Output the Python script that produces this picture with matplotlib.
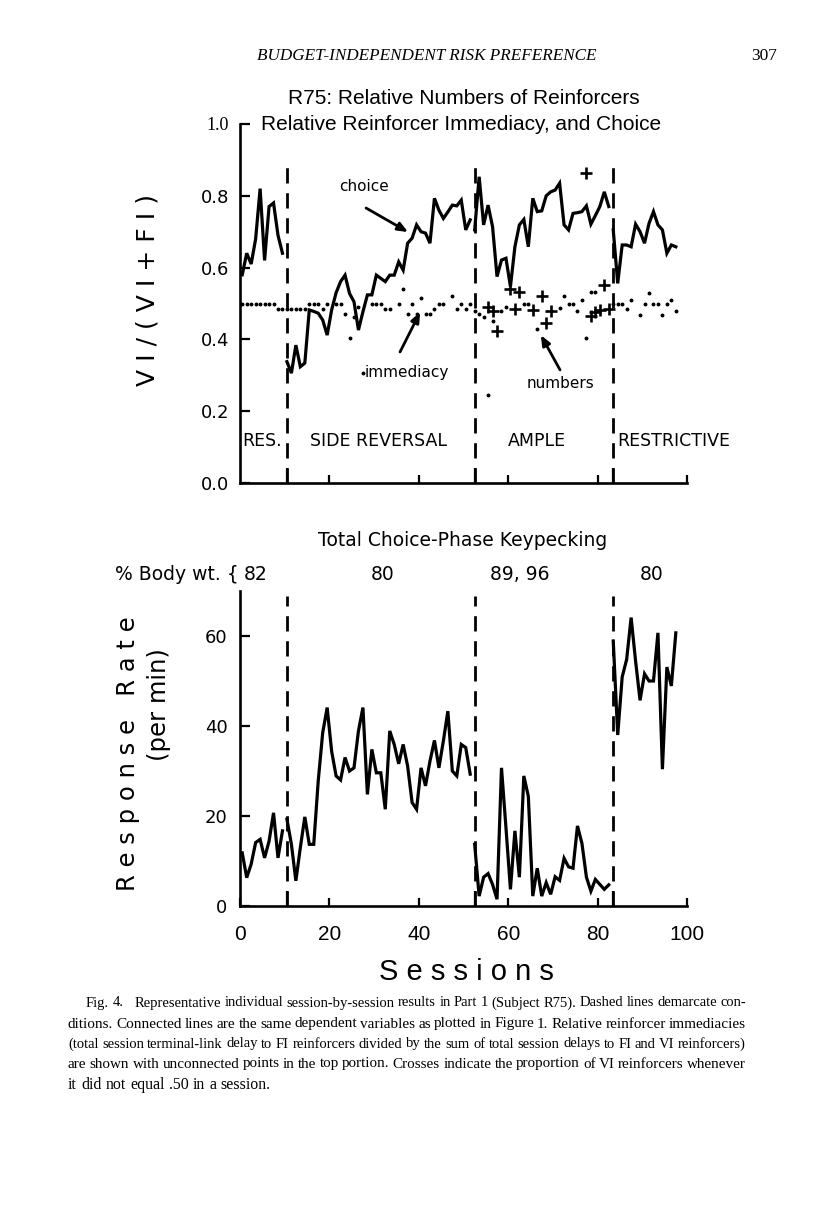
import numpy as np
import matplotlib
matplotlib.use("Agg")
import matplotlib.pyplot as plt

# ---------------- data ----------------
conditions = ["RES.", "SIDE REVERSAL", "AMPLE", "RESTRICTIVE"]
cond_first_session = [1, 11, 53, 84]
cond_last_session = [10, 52, 83, 98]
boundaries = [10.5, 52.5, 83.5]

res_choice = [0.58, 0.64, 0.61, 0.68, 0.82, 0.62, 0.77, 0.78, 0.69, 0.64]
sr_choice = [0.338, 0.306, 0.384, 0.324, 0.334, 0.482, 0.478, 0.473, 0.454, 0.412,
             0.482, 0.53, 0.561, 0.579, 0.528, 0.505, 0.426, 0.477, 0.524, 0.524,
             0.579, 0.57, 0.561, 0.579, 0.579, 0.616, 0.593, 0.668, 0.682, 0.719,
             0.70, 0.696, 0.668, 0.793, 0.760, 0.737, 0.755, 0.774, 0.772, 0.788,
             0.705, 0.733]
ample_choice = [0.705, 0.853, 0.719, 0.774, 0.714, 0.575, 0.621, 0.626, 0.547, 0.658,
                0.719, 0.734, 0.658, 0.793, 0.756, 0.758, 0.80, 0.811, 0.816, 0.835,
                0.719, 0.705, 0.751, 0.753, 0.756, 0.772, 0.721, 0.745, 0.770, 0.811,
                0.77]
restr_choice = [0.705, 0.556, 0.663, 0.663, 0.658, 0.721, 0.70, 0.668, 0.723, 0.756,
                0.719, 0.705, 0.64, 0.663, 0.658]

N = None
res_imm = [0.50, 0.50, 0.50, 0.50, 0.50, 0.50, 0.50, 0.50, 0.485, 0.485]
sr_imm = [0.485, 0.485, 0.485, 0.485, 0.485, 0.50, 0.50, 0.50, 0.485, 0.50,
          N, 0.50, 0.50, 0.47, 0.405, 0.463, 0.49, 0.306, N, 0.50,
          0.50, 0.50, 0.485, 0.485, N, 0.50, 0.54, 0.47, 0.50, 0.47,
          0.515, 0.47, 0.47, 0.485, 0.50, 0.50, N, 0.52, 0.485, 0.50,
          0.485, 0.50]
ample_imm = [0.48, 0.47, 0.463, 0.245, 0.45, N, 0.48, 0.49, N, N,
             N, 0.50, 0.50, N, 0.428, N, N, N, N, 0.487,
             0.52, 0.50, 0.50, 0.48, 0.51, 0.403, 0.533, 0.533, N, N,
             N]
restr_imm = [0.50, 0.50, 0.50, 0.485, 0.51, N, 0.468, 0.50, 0.53, 0.50,
             0.50, 0.468, 0.50, 0.51, 0.48]

numbers_sessions = [56, 57, 58, 61, 62, 63, 66, 68, 69, 70, 78, 79, 80, 81, 82, 83]
numbers_values = [0.49, 0.48, 0.424, 0.54, 0.485, 0.531, 0.482, 0.52, 0.447, 0.48,
                  0.864, 0.466, 0.477, 0.482, 0.552, 0.485]

res_rate = [11.8, 6.3, 9.3, 14.1, 14.8, 10.7, 14.4, 20.7, 10.7, 16.7]
sr_rate = [19.3, 13.7, 5.6, 13.0, 19.8, 13.7, 13.7, 27.8, 38.5, 44.1,
           34.4, 28.9, 28.0, 33.0, 30.0, 30.7, 38.9, 44.1, 24.8, 34.8,
           29.6, 29.6, 21.5, 38.9, 35.9, 31.6, 35.9, 31.1, 23.0, 21.5,
           30.7, 26.7, 32.2, 36.8, 30.7, 36.7, 43.3, 30.0, 28.9, 35.9,
           35.2, 29.3]
ample_rate = [13.7, 2.2, 6.4, 7.2, 4.8, 1.5, 30.7, 17.4, 3.7, 16.7,
              6.4, 28.9, 24.4, 2.2, 8.4, 2.2, 5.2, 2.6, 6.5, 5.7,
              10.6, 8.7, 8.4, 17.8, 13.9, 6.4, 3.3, 5.9, 4.8, 3.7,
              4.7]
restr_rate = [58.9, 38.0, 50.9, 54.8, 64.1, 54.4, 45.7, 51.6, 50.0, 50.0,
              60.7, 30.4, 53.1, 48.9, 60.7]

body_wt = ["82", "80", "89, 96", "80"]
top_yticks = [0.0, 0.2, 0.4, 0.6, 0.8, 1.0]
bot_yticks = [0, 20, 40, 60]
xticks = [0, 20, 40, 60, 80, 100]

choice_by_cond = [res_choice, sr_choice, ample_choice, restr_choice]
imm_by_cond = [res_imm, sr_imm, ample_imm, restr_imm]
rate_by_cond = [res_rate, sr_rate, ample_rate, restr_rate]

caption = [
    "Fig. 4.  Representative individual session-by-session results in Part 1 (Subject R75). Dashed lines demarcate con-",
    "ditions. Connected lines are the same dependent variables as plotted in Figure 1. Relative reinforcer immediacies",
    "(total session terminal-link delay to FI reinforcers divided by the sum of total session delays to FI and VI reinforcers)",
    "are shown with unconnected points in the top portion. Crosses indicate the proportion of VI reinforcers whenever",
    "it did not equal .50 in a session.",
]

# ---------------- figure ----------------
W, H = 816, 1207
plt.rcParams["lines.scale_dashes"] = False
fig = plt.figure(figsize=(W / 100, H / 100), dpi=100)


def fx(px):
    return px / W


def fy(py):
    return 1 - py / H


def axes_px(left, top, right, bottom):
    return fig.add_axes([fx(left), fy(bottom), (right - left) / W, (bottom - top) / H])


SANS = "DejaVu Sans"
HELV = "Liberation Sans"
SERIF = "Liberation Serif"
LW = 2.3
SPW = 1.9
shift = 0.5  # sessions plotted at session - 0.5

ax1 = axes_px(240, 124, 687, 483)
ax2 = axes_px(240, 591, 687, 906)

for ax in (ax1, ax2):
    for s in ("top", "right"):
        ax.spines[s].set_visible(False)
    for s in ("left", "bottom"):
        ax.spines[s].set_linewidth(SPW)
    ax.set_xlim(0, 100)

ax1.set_ylim(0, 1.0)
ax2.set_ylim(0, 70)

# ---- top panel ----
for first, vals, imms in zip(cond_first_session, choice_by_cond, imm_by_cond):
    xs = np.arange(first, first + len(vals)) - shift
    ax1.plot(xs, vals, color="black", lw=LW, solid_joinstyle="miter", zorder=3)
    imv = np.array([np.nan if v is None else v for v in imms], dtype=float)
    ax1.plot(xs, imv, ls="none", marker="o", ms=1.8, color="black", zorder=3)

ax1.plot(np.array(numbers_sessions) - shift, numbers_values, ls="none", marker="+",
         ms=9, mew=1.9, color="black", zorder=4)

for b in boundaries:
    ax1.plot([b, b], [0, 0.89], color="black", lw=2.0, dashes=(11, 7), zorder=2)

ax1.set_yticks(top_yticks)
ax1.set_yticklabels(["0.0", "0.2", "0.4", "0.6", "0.8", "1.0"], fontsize=13, family=SANS)
ax1.get_yticklabels()[-1].set_family(SERIF)
ax1.get_yticklabels()[-1].set_fontsize(13)
ax1.tick_params(axis="y", direction="in", length=7, width=1.6, pad=8)
ax1.set_xticks([20, 40, 60, 80, 100])
ax1.set_xticks(boundaries, minor=True)
ax1.set_xticklabels([])
ax1.tick_params(axis="x", which="major", direction="in", length=6, width=1.6)
ax1.tick_params(axis="x", which="minor", direction="in", length=11, width=1.6)

cond_label_x = [0.6, 30.9, 66.4, 84.3]
cond_ha = ["left", "center", "center", "left"]
for lab, xv, ha in zip(conditions, cond_label_x, cond_ha):
    ax1.text(xv, 0.117, lab, fontsize=12.5, family=SANS, ha=ha, va="center", clip_on=False)

ax1.text(27.7, 0.827, "choice", fontsize=11, family=SANS, ha="center", va="center")
ax1.text(37.4, 0.309, "immediacy", fontsize=11, family=SANS, ha="center", va="center")
ax1.text(71.6, 0.276, "numbers", fontsize=11, family=SANS, ha="center", va="center")
arrow = dict(arrowstyle="-|>,head_length=0.6,head_width=0.25", color="black", lw=2.0,
             shrinkA=0, shrinkB=0)
ax1.annotate("", xy=(37.6, 0.699), xytext=(28.2, 0.766), arrowprops=arrow)
ax1.annotate("", xy=(40.3, 0.476), xytext=(35.8, 0.365), arrowprops=arrow)
ax1.annotate("", xy=(67.3, 0.412), xytext=(71.6, 0.315), arrowprops=arrow)

# ---- bottom panel ----
for first, vals in zip(cond_first_session, rate_by_cond):
    xs = np.arange(first, first + len(vals)) - shift
    ax2.plot(xs, vals, color="black", lw=LW, solid_joinstyle="miter", zorder=3)

for b in boundaries:
    ax2.plot([b, b], [0, 69], color="black", lw=2.0, dashes=(11, 7), zorder=2)

ax2.set_yticks(bot_yticks)
ax2.set_yticklabels([str(v) for v in bot_yticks], fontsize=13, family=SANS)
ax2.tick_params(axis="y", direction="in", length=7, width=1.6, pad=9)
ax2.set_xticks(xticks)
ax2.set_xticklabels([str(v) for v in xticks], fontsize=15, family=HELV)
ax2.set_xticks(boundaries, minor=True)
ax2.tick_params(axis="x", which="major", direction="in", length=6, width=1.6, pad=14)
ax2.tick_params(axis="x", which="minor", direction="in", length=11, width=1.6)

# ---- figure texts ----
fig.text(fx(427), fy(56), "BUDGET-INDEPENDENT RISK PREFERENCE", fontsize=12.3,
         family=SERIF, style="italic", ha="center", va="center")
fig.text(fx(764), fy(56), "307", fontsize=12.5, family=SERIF, ha="center", va="center")
fig.text(fx(464), fy(98), "R75: Relative Numbers of Reinforcers", fontsize=15,
         family=HELV, ha="center", va="center")
fig.text(fx(461), fy(125), "Relative Reinforcer Immediacy, and Choice", fontsize=15,
         family=HELV, ha="center", va="center")
fig.text(fx(148), fy(290), "V I / ( V I + F I )", fontsize=18, family=SANS,
         rotation=90, ha="center", va="center")

fig.text(fx(463), fy(541), "Total Choice-Phase Keypecking", fontsize=13.5, family=SANS,
         ha="center", va="center")
fig.text(fx(115), fy(575), "% Body wt. {", fontsize=13.5, family=SANS, ha="left", va="center")
bw_x = [256, 383, 520, 652]
for t, xp in zip(body_wt, bw_x):
    fig.text(fx(xp), fy(575), t, fontsize=13.5, family=SANS, ha="center", va="center")

fig.text(fx(128), fy(754), "R e s p o n s e   R a t e", fontsize=17.5, family=SANS,
         rotation=90, ha="center", va="center")
fig.text(fx(159), fy(705), "(per min)", fontsize=17.5, family=SANS,
         rotation=90, ha="center", va="center")
fig.text(fx(466), fy(972), "S e s s i o n s", fontsize=21, family=HELV,
         ha="center", va="center")

# ---- caption (justified) ----
renderer = fig.canvas.get_renderer()
cap_y = [1003, 1024, 1044, 1064, 1085]
cap_x0 = [86, 68, 68, 68, 68]
cap_x1 = 746
base_size = 11.4
for i, (line, yy, x0) in enumerate(zip(caption, cap_y, cap_x0)):
    words = [w for w in line.split(" ") if w != ""]
    extra = 8 if i == 0 else 0
    size = base_size
    while True:
        texts = [fig.text(0, fy(yy), w, fontsize=size, family=SERIF, ha="left", va="center")
                 for w in words]
        widths = [t.get_window_extent(renderer).width for t in texts]
        if i < len(caption) - 1:
            gap = (cap_x1 - x0 - sum(widths) - extra) / (len(words) - 1)
        else:
            gap = 0.27 * size * 100 / 72
        if gap >= 3.0 or size < 9.5:
            break
        for t in texts:
            t.remove()
        size -= 0.1
    x = x0
    for j, (t, w) in enumerate(zip(texts, widths)):
        t.set_x(fx(x))
        x += w + gap
        if i == 0 and j == 1:
            x += extra

fig.savefig("out.png", dpi=100)
